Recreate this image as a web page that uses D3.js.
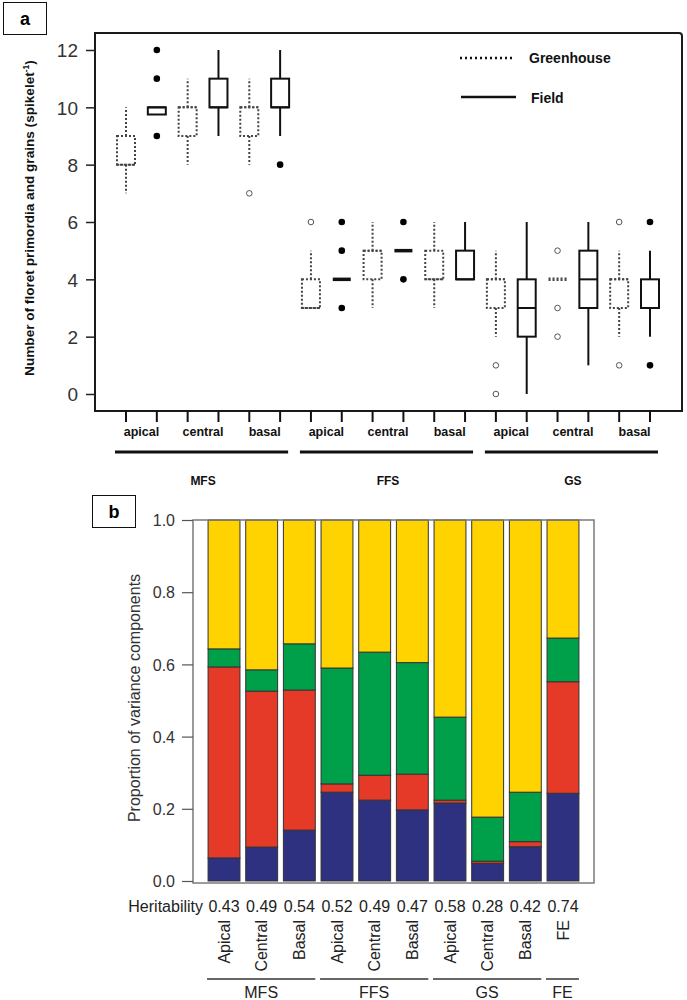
<!DOCTYPE html>
<html>
<head>
<meta charset="utf-8">
<script src="https://cdn.jsdelivr.net/npm/d3@7/dist/d3.min.js"></script>
<style>
  body { margin: 0; background: #fff; }
  svg { display: block; }
</style>
</head>
<body>
<svg id="chart" width="687" height="1000"></svg>
<script>
// ---------------- Panel a data ----------------
const spikeletGroups = ["MFS", "FFS", "GS"];
const spikeletPositions = ["apical", "central", "basal"];
const environments = ["Greenhouse", "Field"];
const yTicksA = [0, 2, 4, 6, 8, 10, 12];
// 18 boxes: group x position x environment (Greenhouse, Field alternating)
const whiskerLow  = [7, 9.75, 8, 9, 8, 9,   3, 4, 3, 5, 3, 4,   2, 0, 4, 1, 2, 2];
const quartile1   = [8, 9.75, 9, 10, 9, 10, 3, 4, 4, 5, 4, 4,   3, 2, 4, 3, 3, 3];
const medians     = [8, 10, 10, 10, 10, 10, 3, 4, 5, 5, 4, 4,   4, 3, 4, 4, 4, 3];
const quartile3   = [9, 10, 10, 11, 10, 11, 4, 4, 5, 5, 5, 5,   4, 4, 4, 5, 4, 4];
const whiskerHigh = [10, 10, 11, 12, 11, 12, 5, 4, 6, 5, 6, 6,  5, 6, 4, 6, 5, 5];
const outliers    = [[], [12, 11, 9], [], [], [7], [8],
                     [6], [6, 5, 3], [], [6, 4], [], [],
                     [1, 0], [], [5, 3, 2], [], [6, 1], [6, 1]];

// ---------------- Panel b data ----------------
const barLabels = ["Apical", "Central", "Basal", "Apical", "Central", "Basal", "Apical", "Central", "Basal", "FE"];
const barGroups = ["MFS", "MFS", "MFS", "FFS", "FFS", "FFS", "GS", "GS", "GS", "FE"];
const heritability = [0.43, 0.49, 0.54, 0.52, 0.49, 0.47, 0.58, 0.28, 0.42, 0.74];
const compBlue   = [0.064, 0.094, 0.141, 0.246, 0.224, 0.197, 0.216, 0.049, 0.095, 0.243];
const compRed    = [0.529, 0.432, 0.388, 0.023, 0.069, 0.099, 0.008, 0.006, 0.014, 0.309];
const compGreen  = [0.050, 0.059, 0.128, 0.321, 0.341, 0.309, 0.230, 0.122, 0.137, 0.121];
const compYellow = [0.357, 0.415, 0.343, 0.410, 0.366, 0.395, 0.546, 0.823, 0.754, 0.327];
const yTicksB = [0, 0.2, 0.4, 0.6, 0.8, 1.0];

const svg = d3.select("#chart");
svg.append("rect").attr("width", 687).attr("height", 1000).attr("fill", "#fff");

// ================= PANEL A =================
const A = { left: 95, right: 682, top: 33, bottom: 411 };
const xA = d3.scalePoint().domain(d3.range(18)).range([126, 650]);
const yA = d3.scaleLinear().domain([0, 12]).range([394, 50]);
const gA = svg.append("g");

// panel letter
gA.append("rect").attr("x", 3.5).attr("y", 2.5).attr("width", 43).attr("height", 32)
  .attr("fill", "none").attr("stroke", "#111").attr("stroke-width", 1);
gA.append("text").attr("x", 25).attr("y", 25).attr("text-anchor", "middle")
  .attr("font-family", "Liberation Sans, Arial, sans-serif").attr("font-weight", "bold")
  .attr("font-size", 18).text("a");

// frame
gA.append("path")
  .attr("d", `M${A.left},${A.top} H${A.right - 3} Q${A.right},${A.top} ${A.right},${A.top + 3} V${A.bottom} H${A.left} Z`)
  .attr("fill", "none").attr("stroke", "#1a1a1a").attr("stroke-width", 2);

// y axis
const yAxisA = d3.axisLeft(yA).tickValues(yTicksA).tickSize(9).tickPadding(8);
const yax = gA.append("g").attr("transform", `translate(${A.left},0)`).call(yAxisA);
yax.select(".domain").remove();
yax.selectAll("line").attr("stroke", "#222").attr("stroke-width", 1.5);
yax.selectAll("text").attr("font-family", "Liberation Sans, Arial, sans-serif")
  .attr("font-size", 19).attr("fill", "#333").attr("dy", "0.36em");

// y label
const yl = gA.append("text")
  .attr("transform", `translate(29,218) rotate(-90)`)
  .attr("text-anchor", "middle").attr("dy", "0.35em")
  .attr("font-family", "Liberation Sans, Arial, sans-serif").attr("font-weight", "bold")
  .attr("font-size", 13.6).attr("fill", "#111");
yl.append("tspan").text("Number of floret primordia and grains (spikelet");
yl.append("tspan").attr("font-size", 8.5).attr("dy", -5).text("-1");
yl.append("tspan").attr("dy", 5).text(")");

// x ticks
gA.append("g").selectAll("line").data(d3.range(18)).join("line")
  .attr("x1", d => xA(d)).attr("x2", d => xA(d))
  .attr("y1", A.bottom).attr("y2", A.bottom + 11)
  .attr("stroke", "#111").attr("stroke-width", 2);

// position labels
const posLabels = [];
spikeletGroups.forEach((g, gi) => spikeletPositions.forEach((p, pi) => {
  const i0 = gi * 6 + pi * 2;
  posLabels.push({ label: p, x: (xA(i0) + xA(i0 + 1)) / 2 });
}));
gA.append("g").selectAll("text").data(posLabels).join("text")
  .attr("x", d => d.x).attr("y", 436).attr("text-anchor", "middle")
  .attr("font-family", "Liberation Sans, Arial, sans-serif").attr("font-weight", "bold")
  .attr("font-size", 12.5).attr("fill", "#111").text(d => d.label);

// group lines and labels
const groupInfoA = spikeletGroups.map((g, gi) => ({
  label: g, x1: xA(gi * 6) - 11, x2: xA(gi * 6 + 5) + 8, cx: (xA(gi * 6) + xA(gi * 6 + 5)) / 2
}));
gA.append("g").selectAll("line").data(groupInfoA).join("line")
  .attr("x1", d => d.x1).attr("x2", d => d.x2).attr("y1", 452).attr("y2", 452)
  .attr("stroke", "#111").attr("stroke-width", 3);
gA.append("g").selectAll("text").data(groupInfoA).join("text")
  .attr("x", d => d.cx).attr("y", 485).attr("text-anchor", "middle")
  .attr("font-family", "Liberation Sans, Arial, sans-serif").attr("font-weight", "bold")
  .attr("font-size", 12).attr("fill", "#111").text(d => d.label);

// boxes
const boxW = 18;
const boxes = d3.range(18).map(i => ({
  i, env: environments[i % 2], lo: whiskerLow[i], q1: quartile1[i], med: medians[i],
  q3: quartile3[i], hi: whiskerHigh[i], out: outliers[i]
}));
const styleFor = d => d.env === "Greenhouse"
  ? { stroke: "#444", dash: "2,2", width: 2 }
  : { stroke: "#111", dash: null, width: 2 };

const bg = gA.append("g").selectAll("g").data(boxes).join("g");
bg.each(function (d) {
  const g = d3.select(this), s = styleFor(d), cx = xA(d.i);
  const apply = sel => sel.attr("stroke", s.stroke).attr("stroke-width", s.width)
    .attr("stroke-dasharray", s.dash).attr("fill", "none");
  if (d.hi > d.q3) apply(g.append("line").attr("x1", cx).attr("x2", cx).attr("y1", yA(d.q3)).attr("y2", yA(d.hi)));
  if (d.lo < d.q1) apply(g.append("line").attr("x1", cx).attr("x2", cx).attr("y1", yA(d.q1)).attr("y2", yA(d.lo)));
  if (d.q3 > d.q1) {
    apply(g.append("rect").attr("x", cx - boxW / 2).attr("y", yA(d.q3))
      .attr("width", boxW).attr("height", yA(d.q1) - yA(d.q3)));
  }
  apply(g.append("line").attr("x1", cx - boxW / 2).attr("x2", cx + boxW / 2)
    .attr("y1", yA(d.med)).attr("y2", yA(d.med)))
    .attr("stroke-width", d.q3 === d.q1 ? 3.5 : s.width);
  d.out.forEach(v => {
    const c = g.append("circle").attr("cx", cx).attr("cy", yA(v));
    if (d.env === "Field") c.attr("r", 3.3).attr("fill", "#000");
    else c.attr("r", 2.8).attr("fill", "#fff").attr("stroke", "#555").attr("stroke-width", 1);
  });
});

// legend
const legA = gA.append("g");
legA.append("line").attr("x1", 460).attr("x2", 513).attr("y1", 58).attr("y2", 58)
  .attr("stroke", "#111").attr("stroke-width", 2.5).attr("stroke-dasharray", "2,3");
legA.append("line").attr("x1", 461).attr("x2", 516).attr("y1", 97).attr("y2", 97)
  .attr("stroke", "#111").attr("stroke-width", 2.5);
legA.append("text").attr("x", 529).attr("y", 63).text(environments[0]);
legA.append("text").attr("x", 531).attr("y", 103).text(environments[1]);
legA.selectAll("text").attr("font-family", "Liberation Sans, Arial, sans-serif")
  .attr("font-weight", "bold").attr("font-size", 14).attr("fill", "#111");

// ================= PANEL B =================
const B = { left: 193, right: 594, top: 520, bottom: 883 };
const xB = d3.scaleBand().domain(d3.range(10)).range([B.left, B.right])
  .paddingInner(0.153).paddingOuter(0.4);
const yB = d3.scaleLinear().domain([0, 1]).range([881, 520]);
const gB = svg.append("g");

gB.append("rect").attr("x", 92.5).attr("y", 495.5).attr("width", 43).attr("height", 32)
  .attr("fill", "none").attr("stroke", "#111").attr("stroke-width", 1);
gB.append("text").attr("x", 114).attr("y", 518).attr("text-anchor", "middle")
  .attr("font-family", "Liberation Sans, Arial, sans-serif").attr("font-weight", "bold")
  .attr("font-size", 18).text("b");

const table = d3.range(10).map(i => ({
  i, blue: compBlue[i], red: compRed[i], green: compGreen[i], yellow: compYellow[i]
}));
const keys = ["blue", "red", "green", "yellow"];
const colors = { blue: "#2E3180", red: "#E53A27", green: "#00A04B", yellow: "#FFD300" };
const stack = d3.stack().keys(keys)(table);

gB.append("g").selectAll("g").data(stack).join("g")
  .attr("fill", d => colors[d.key])
  .selectAll("rect").data(d => d).join("rect")
  .attr("x", d => xB(d.data.i)).attr("width", xB.bandwidth())
  .attr("y", d => yB(d[1])).attr("height", d => yB(d[0]) - yB(d[1]))
  .attr("stroke", "#333").attr("stroke-width", 1);

// frame
gB.append("rect").attr("x", B.left).attr("y", B.top).attr("width", B.right - B.left)
  .attr("height", B.bottom - B.top).attr("fill", "none").attr("stroke", "#7a7a7a").attr("stroke-width", 1.5);

// y axis
const yAxisB = d3.axisLeft(yB).tickValues(yTicksB).tickFormat(d3.format(".1f")).tickSize(11).tickPadding(7);
const ybx = gB.append("g").attr("transform", `translate(${B.left},0)`).call(yAxisB);
ybx.select(".domain").remove();
ybx.selectAll("line").attr("stroke", "#555").attr("stroke-width", 1.2);
ybx.selectAll("text").attr("font-family", "Liberation Sans, Arial, sans-serif")
  .attr("font-size", 16).attr("fill", "#333").attr("dy", "0.36em");

gB.append("text").attr("transform", "translate(134,698) rotate(-90)")
  .attr("text-anchor", "middle").attr("dy", "0.35em")
  .attr("font-family", "Liberation Sans, Arial, sans-serif").attr("font-size", 16)
  .attr("fill", "#333").text("Proportion of variance components");

// heritability row
gB.append("text").attr("x", 203).attr("y", 912).attr("text-anchor", "end")
  .attr("font-family", "Liberation Sans, Arial, sans-serif").attr("font-size", 16)
  .attr("fill", "#222").text("Heritability");
gB.append("g").selectAll("text").data(heritability).join("text")
  .attr("x", (d, i) => xB(i) + xB.bandwidth() / 2).attr("y", 912).attr("text-anchor", "middle")
  .attr("font-family", "Liberation Sans, Arial, sans-serif").attr("font-size", 16)
  .attr("fill", "#222").text(d => d3.format(".2f")(d));

// rotated category labels
gB.append("g").selectAll("text").data(barLabels).join("text")
  .attr("transform", (d, i) => `translate(${xB(i) + xB.bandwidth() / 2},920) rotate(-90)`)
  .attr("text-anchor", "end").attr("dy", "0.36em")
  .attr("font-family", "Liberation Sans, Arial, sans-serif").attr("font-size", 16)
  .attr("fill", "#222").text(d => d);

// group lines
const groupNamesB = Array.from(new Set(barGroups));
const groupInfoB = groupNamesB.map(g => {
  const idx = barGroups.map((b, i) => b === g ? i : -1).filter(i => i >= 0);
  const x1 = xB(idx[0]) - 1, x2 = xB(idx[idx.length - 1]) + xB.bandwidth();
  return { label: g, x1, x2, cx: (x1 + x2) / 2 };
});
gB.append("g").selectAll("line").data(groupInfoB).join("line")
  .attr("x1", d => d.x1).attr("x2", d => d.x2).attr("y1", 979).attr("y2", 979)
  .attr("stroke", "#333").attr("stroke-width", 1.5);
gB.append("g").selectAll("text").data(groupInfoB).join("text")
  .attr("x", d => d.cx).attr("y", 998).attr("text-anchor", "middle")
  .attr("font-family", "Liberation Sans, Arial, sans-serif").attr("font-size", 16)
  .attr("fill", "#222").text(d => d.label);
</script>
</body>
</html>
